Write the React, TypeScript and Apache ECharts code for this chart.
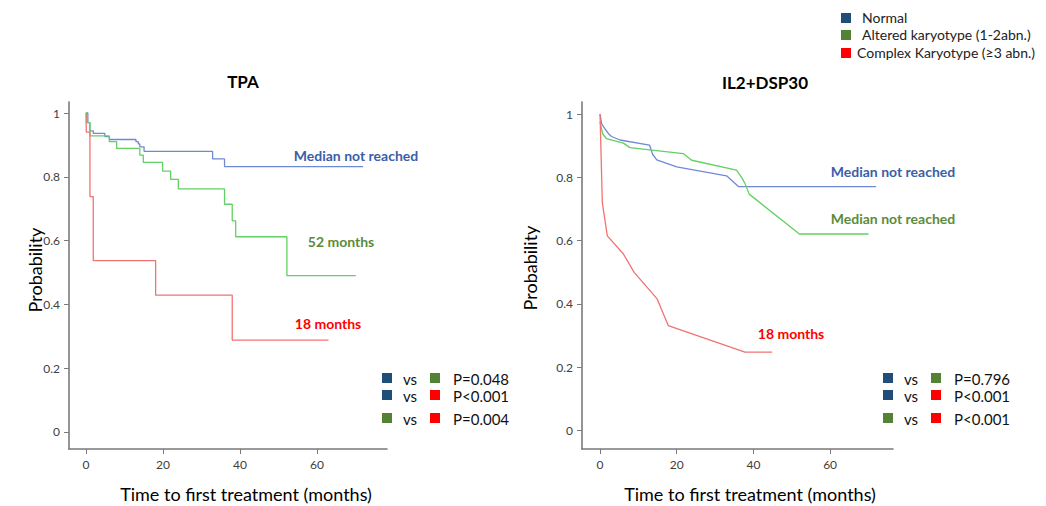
import React, { useEffect, useRef } from "react";
import * as echarts from "echarts";

// ---- Data ----
const seriesNames = ["Normal", "Altered karyotype (1-2abn.)", "Complex Karyotype (≥3 abn.)"];
const lineColors = ["#7089d6", "#62d062", "#f27272"];
const markerColors = ["#1f4e79", "#548235", "#ff0000"];

// TPA (Kaplan-Meier step curves): [month, probability]
const tpaNormal: [number, number][] = [
  [0, 1], [0.5, 0.97], [1, 0.944], [1.9, 0.936], [4.9, 0.926], [6.1, 0.917], [13, 0.91],
  [13.6, 0.903], [14, 0.894], [15.1, 0.88], [32.9, 0.856], [36, 0.832], [72, 0.832],
];
const tpaAltered: [number, number][] = [
  [0, 1], [0.2, 0.97], [1.04, 0.928], [6.07, 0.91], [7.97, 0.889], [14, 0.868], [14.9, 0.845],
  [19.9, 0.818], [22, 0.792], [24, 0.762], [36, 0.714], [38, 0.662], [38.9, 0.612], [52.2, 0.49],
  [70.1, 0.49],
];
const tpaComplex: [number, number][] = [
  [0, 1], [0.1, 0.94], [1.04, 0.738], [1.9, 0.537], [18.1, 0.429], [38, 0.288], [63, 0.288],
];

// IL2+DSP30 (smoothed curves)
const ilNormal: [number, number][] = [
  [0, 1], [0.44, 0.968], [2.2, 0.938], [3.0, 0.929], [5.2, 0.918], [12.9, 0.902], [13.7, 0.873],
  [14.8, 0.855], [20, 0.833], [33, 0.805], [36.1, 0.771], [72, 0.771],
];
const ilAltered: [number, number][] = [
  [0, 0.975], [0.7, 0.937], [1.7, 0.922], [6.1, 0.908], [7.8, 0.894], [21.7, 0.875], [23.9, 0.854],
  [35.6, 0.823], [36.9, 0.8], [37.8, 0.781], [38.9, 0.747], [52, 0.621], [70, 0.621],
];
const ilComplex: [number, number][] = [
  [0, 1], [0.6, 0.72], [1.9, 0.615], [6.1, 0.558], [8.9, 0.5], [14.9, 0.416], [17.8, 0.332],
  [37.8, 0.248], [44.9, 0.248],
];

const xTicks = [0, 20, 40, 60];
const yTicks = [0, 0.2, 0.4, 0.6, 0.8, 1];

const panelTitles = ["TPA", "IL2+DSP30"];
const xAxisTitle = "Time to first treatment (months)";
const yAxisTitle = "Probability";

const tpaMedians = ["Median not reached", "52 months", "18 months"];
const ilMedians = ["Median not reached", "Median not reached", "18 months"];
const medianTextColors = ["#3b5ea8", "#5b8c3a", "#ff0000"];

const comparisons: [number, number][] = [[0, 1], [0, 2], [1, 2]];
const tpaPValues = ["P=0.048", "P<0.001", "P=0.004"];
const ilPValues = ["P=0.796", "P<0.001", "P<0.001"];

const FONT = "Lato, 'Open Sans', sans-serif";

export default function App() {
  const ref = useRef<HTMLDivElement>(null);

  useEffect(() => {
    if (!ref.current) return;
    const chart = echarts.init(ref.current, undefined, { renderer: "svg" });

    const axisColor = "#7a7a7a";
    const makeX = (gridIndex: number, min: number, max: number) => ({
      type: "value",
      gridIndex,
      min,
      max,
      axisLine: { show: true, onZero: false, lineStyle: { color: axisColor, width: 1.6 } },
      axisTick: { show: true, customValues: xTicks, length: 5, inside: false, lineStyle: { color: axisColor } },
      axisLabel: { customValues: xTicks, color: "#404040", fontSize: 12, fontFamily: FONT, margin: 9 },
      splitLine: { show: false },
    });
    const makeY = (gridIndex: number, min: number, max: number) => ({
      type: "value",
      gridIndex,
      min,
      max,
      axisLine: { show: true, onZero: false, lineStyle: { color: axisColor, width: 1.6 } },
      axisTick: { show: true, customValues: yTicks, length: 5, inside: false, lineStyle: { color: axisColor } },
      axisLabel: {
        customValues: yTicks,
        color: "#404040",
        fontSize: 12,
        fontFamily: FONT,
        margin: 9,
        formatter: (v: number) => String(Math.round(v * 10) / 10),
      },
      splitLine: { show: false },
    });

    const mkSeries = (data: [number, number][], idx: number, grid: number, step: boolean) => ({
      type: "line",
      name: seriesNames[idx],
      xAxisIndex: grid,
      yAxisIndex: grid,
      data,
      step: step ? "end" : undefined,
      showSymbol: false,
      symbol: "none",
      lineStyle: { color: lineColors[idx], width: 1.3 },
      itemStyle: { color: lineColors[idx] },
    });

    const graphics: any[] = [];
    const text = (t: string, x: number, y: number, opts: any = {}) => ({
      type: "text",
      x,
      y,
      rotation: opts.rotation || 0,
      style: {
        text: t,
        fill: opts.fill || "#000",
        fontSize: opts.fontSize || 14,
        fontWeight: opts.fontWeight || "normal",
        fontFamily: FONT,
        align: opts.align || "left",
        verticalAlign: "middle",
      },
    });
    const square = (x: number, y: number, color: string) => ({
      type: "rect",
      shape: { x: x - 5, y: y - 5, width: 10, height: 10 },
      style: { fill: color },
    });

    // Panel titles
    graphics.push(text(panelTitles[0], 243, 81, { fontSize: 17, fontWeight: "bold", align: "center" }));
    graphics.push(text(panelTitles[1], 765, 82, { fontSize: 17, fontWeight: "bold", align: "center" }));
    // Axis titles
    graphics.push(text(xAxisTitle, 246, 494, { fontSize: 18, align: "center" }));
    graphics.push(text(xAxisTitle, 750, 494, { fontSize: 18, align: "center" }));
    graphics.push(text(yAxisTitle, 35, 270, { fontSize: 18, align: "center", rotation: Math.PI / 2 }));
    graphics.push(text(yAxisTitle, 530, 268, { fontSize: 18, align: "center", rotation: Math.PI / 2 }));

    // Top legend
    const legendY = [18, 35, 53];
    const legendTextX = [862, 862, 857];
    seriesNames.forEach((n, i) => {
      graphics.push(square(846, legendY[i], markerColors[i]));
      graphics.push(text(n, legendTextX[i], legendY[i] - 1, { fontSize: 14, fill: "#222" }));
    });

    // Median annotations
    const tpaMedPos: [number, number][] = [[356, 155], [341, 241], [328, 323]];
    const ilMedPos: [number, number][] = [[893, 171], [893, 218], [791, 333]];
    tpaMedians.forEach((m, i) =>
      graphics.push(text(m, tpaMedPos[i][0], tpaMedPos[i][1], { fontSize: 14, fontWeight: "bold", fill: medianTextColors[i], align: "center" }))
    );
    ilMedians.forEach((m, i) =>
      graphics.push(text(m, ilMedPos[i][0], ilMedPos[i][1], { fontSize: 14, fontWeight: "bold", fill: medianTextColors[i], align: "center" }))
    );

    // P-value tables
    const rowY = [378, 395, 418];
    const addTable = (x0: number, pv: string[]) => {
      comparisons.forEach(([a, b], i) => {
        graphics.push(square(x0, rowY[i], markerColors[a]));
        graphics.push(text("vs", x0 + 16, rowY[i] + 1, { fontSize: 15, fill: "#111" }));
        graphics.push(square(x0 + 48, rowY[i], markerColors[b]));
        graphics.push(text(pv[i], x0 + 66, rowY[i] + 1, { fontSize: 15, fill: "#111" }));
      });
    };
    addTable(387, tpaPValues);
    addTable(888, ilPValues);

    chart.setOption({
      animation: false,
      backgroundColor: "#ffffff",
      grid: [
        { left: 69, top: 102, width: 318, height: 347, containLabel: false },
        { left: 582, top: 102, width: 311, height: 347, containLabel: false },
      ],
      xAxis: [makeX(0, -4.4, 78.2), makeX(1, -4.7, 76.4)],
      yAxis: [makeY(0, -0.0533, 1.0345), makeY(1, -0.058, 1.038)],
      series: [
        mkSeries(tpaNormal, 0, 0, true),
        mkSeries(tpaAltered, 1, 0, true),
        mkSeries(tpaComplex, 2, 0, true),
        mkSeries(ilNormal, 0, 1, false),
        mkSeries(ilAltered, 1, 1, false),
        mkSeries(ilComplex, 2, 1, false),
      ],
      graphic: graphics,
    });

    return () => chart.dispose();
  }, []);

  return (
    <div
      ref={ref}
      style={{ position: "fixed", left: 0, top: 0, width: 1046, height: 506, background: "#fff" }}
    />
  );
}
